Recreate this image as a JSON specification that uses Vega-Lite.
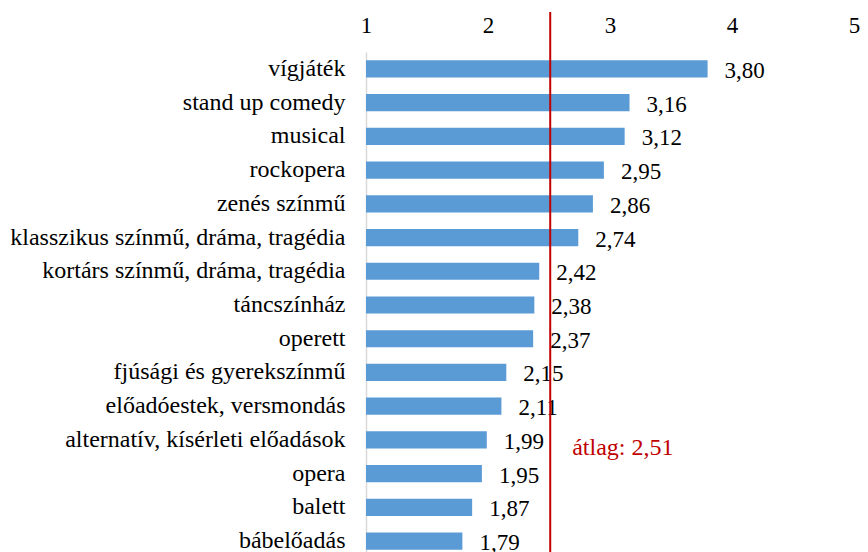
{
  "$schema": "https://vega.github.io/schema/vega-lite/v6.json",
  "autosize": {"type": "none"},
  "padding": {"top": 52, "left": 366, "right": 14, "bottom": 0},
  "width": 488,
  "height": 506,
  "background": "white",
  "config": {
    "view": {"stroke": null},
    "font": "Liberation Serif, Times New Roman, serif",
    "text": {"font": "Liberation Serif, Times New Roman, serif"},
    "axis": {"labelFont": "Liberation Serif, Times New Roman, serif"},
    "locale": {"number": {"decimal": ",", "thousands": " ", "grouping": [3], "currency": ["", ""]}}
  },
  "data": {"values": [
    {"cat": "vígjáték", "v": 3.80},
    {"cat": "stand up comedy", "v": 3.16},
    {"cat": "musical", "v": 3.12},
    {"cat": "rockopera", "v": 2.95},
    {"cat": "zenés színmű", "v": 2.86},
    {"cat": "klasszikus színmű, dráma, tragédia", "v": 2.74},
    {"cat": "kortárs színmű, dráma, tragédia", "v": 2.42},
    {"cat": "táncszínház", "v": 2.38},
    {"cat": "operett", "v": 2.37},
    {"cat": "fjúsági és gyerekszínmű", "v": 2.15},
    {"cat": "előadóestek, versmondás", "v": 2.11},
    {"cat": "alternatív, kísérleti előadások", "v": 1.99},
    {"cat": "opera", "v": 1.95},
    {"cat": "balett", "v": 1.87},
    {"cat": "bábelőadás", "v": 1.79}
  ]},
  "encoding": {
    "y": {"field": "cat", "type": "nominal", "sort": null,
      "scale": {"paddingInner": 0.49, "paddingOuter": 0.245},
      "axis": {"title": null, "ticks": false, "domain": true, "domainColor": "#d9d9d9", "domainWidth": 1.5,
        "labelFontSize": 24, "labelColor": "#000000", "labelPadding": 21, "labelLimit": 400}}
  },
  "layer": [
    {
      "mark": {"type": "bar", "color": "#5b9bd5"},
      "encoding": {
        "x": {"field": "v", "type": "quantitative", "scale": {"domain": [1, 5], "nice": false, "zero": false},
          "axis": {"orient": "top", "title": null, "values": [1, 2, 3, 4, 5], "ticks": false, "domain": false, "grid": false,
            "labelFontSize": 23, "labelColor": "#000000", "labelPadding": 20,
            "labelBaseline": "alphabetic", "labelFlush": false, "format": "d"}},
        "x2": {"datum": 1}
      }
    },
    {
      "mark": {"type": "text", "align": "left", "baseline": "alphabetic", "dx": 17, "dy": 9, "fontSize": 23, "color": "#000000"},
      "encoding": {
        "x": {"field": "v", "type": "quantitative"},
        "text": {"field": "v", "type": "quantitative", "format": ".2f"}
      }
    },
    {
      "data": {"values": [{"avg": 2.51, "label": "átlag: 2,51", "row": "alternatív, kísérleti előadások"}]},
      "layer": [
        {
          "mark": {"type": "rule", "color": "#c00000", "strokeWidth": 2, "yOffset": -40},
          "encoding": {"x": {"field": "avg", "type": "quantitative"}, "y": null}
        },
        {
          "mark": {"type": "text", "align": "left", "baseline": "alphabetic", "dx": 22, "dy": 15, "fontSize": 24, "color": "#c00000"},
          "encoding": {
            "x": {"field": "avg", "type": "quantitative"},
            "y": {"field": "row", "type": "nominal", "sort": null},
            "text": {"field": "label"}
          }
        }
      ]
    }
  ]
}
